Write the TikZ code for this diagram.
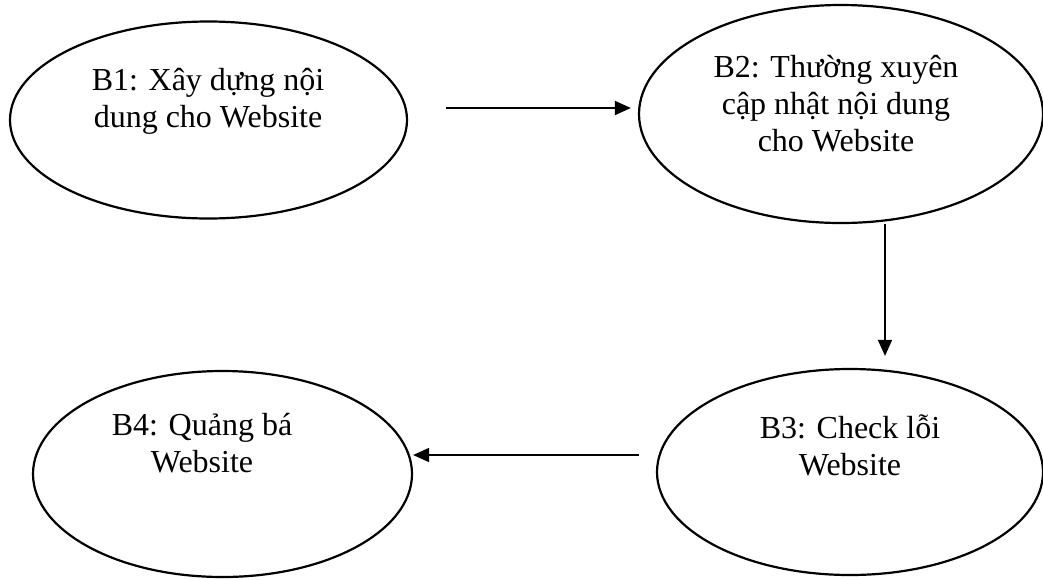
\documentclass[tikz,border=0pt]{standalone}
\usepackage{fontspec}
\setmainfont{Liberation Serif}
\usetikzlibrary{shapes.geometric,arrows.meta}
\begin{document}
\begin{tikzpicture}[x=1pt,y=-1pt,
  ell/.style={draw=black, line width=2.2pt, ellipse, inner sep=0pt},
  txt/.style={align=center, font=\fontsize{32}{37}\selectfont, inner sep=0pt},
  arr/.style={draw=black, line width=1.6pt, -{Triangle[length=16pt,width=14pt]}}]
\useasboundingbox (0,0) rectangle (1043,579);
\node[ell, minimum width=397pt, minimum height=197pt] (b1) at (208.5,120) {};
\node[ell, minimum width=404pt, minimum height=218pt] (b2) at (841,114) {};
\node[ell, minimum width=386pt, minimum height=206pt] (b3) at (850,472) {};
\node[ell, minimum width=379pt, minimum height=206pt] (b4) at (222.5,474) {};
\node[txt] (t1) at (208,101) {B1: Xây dựng nội\\dung cho Website};
\node[txt] (t2) at (836,104) {B2: Thường xuyên\\cập nhật nội dung\\cho Website};
\node[txt] (t3) at (850,445) {B3: Check lỗi\\Website};
\node[txt] (t4) at (202,443) {B4: Quảng bá\\Website};
\draw[arr, shorten <=38pt, shorten >=7pt] ([yshift=12pt]b1.east) -- ([yshift=6pt]b2.west);
\draw[arr, shorten >=12pt] ([xshift=44pt]b2.south) -- ([xshift=35pt]b3.north);
\draw[arr, shorten <=17pt, shorten >=0pt] ([yshift=17pt]b3.west) -- ([yshift=19pt]b4.east);
\end{tikzpicture}
\end{document}
